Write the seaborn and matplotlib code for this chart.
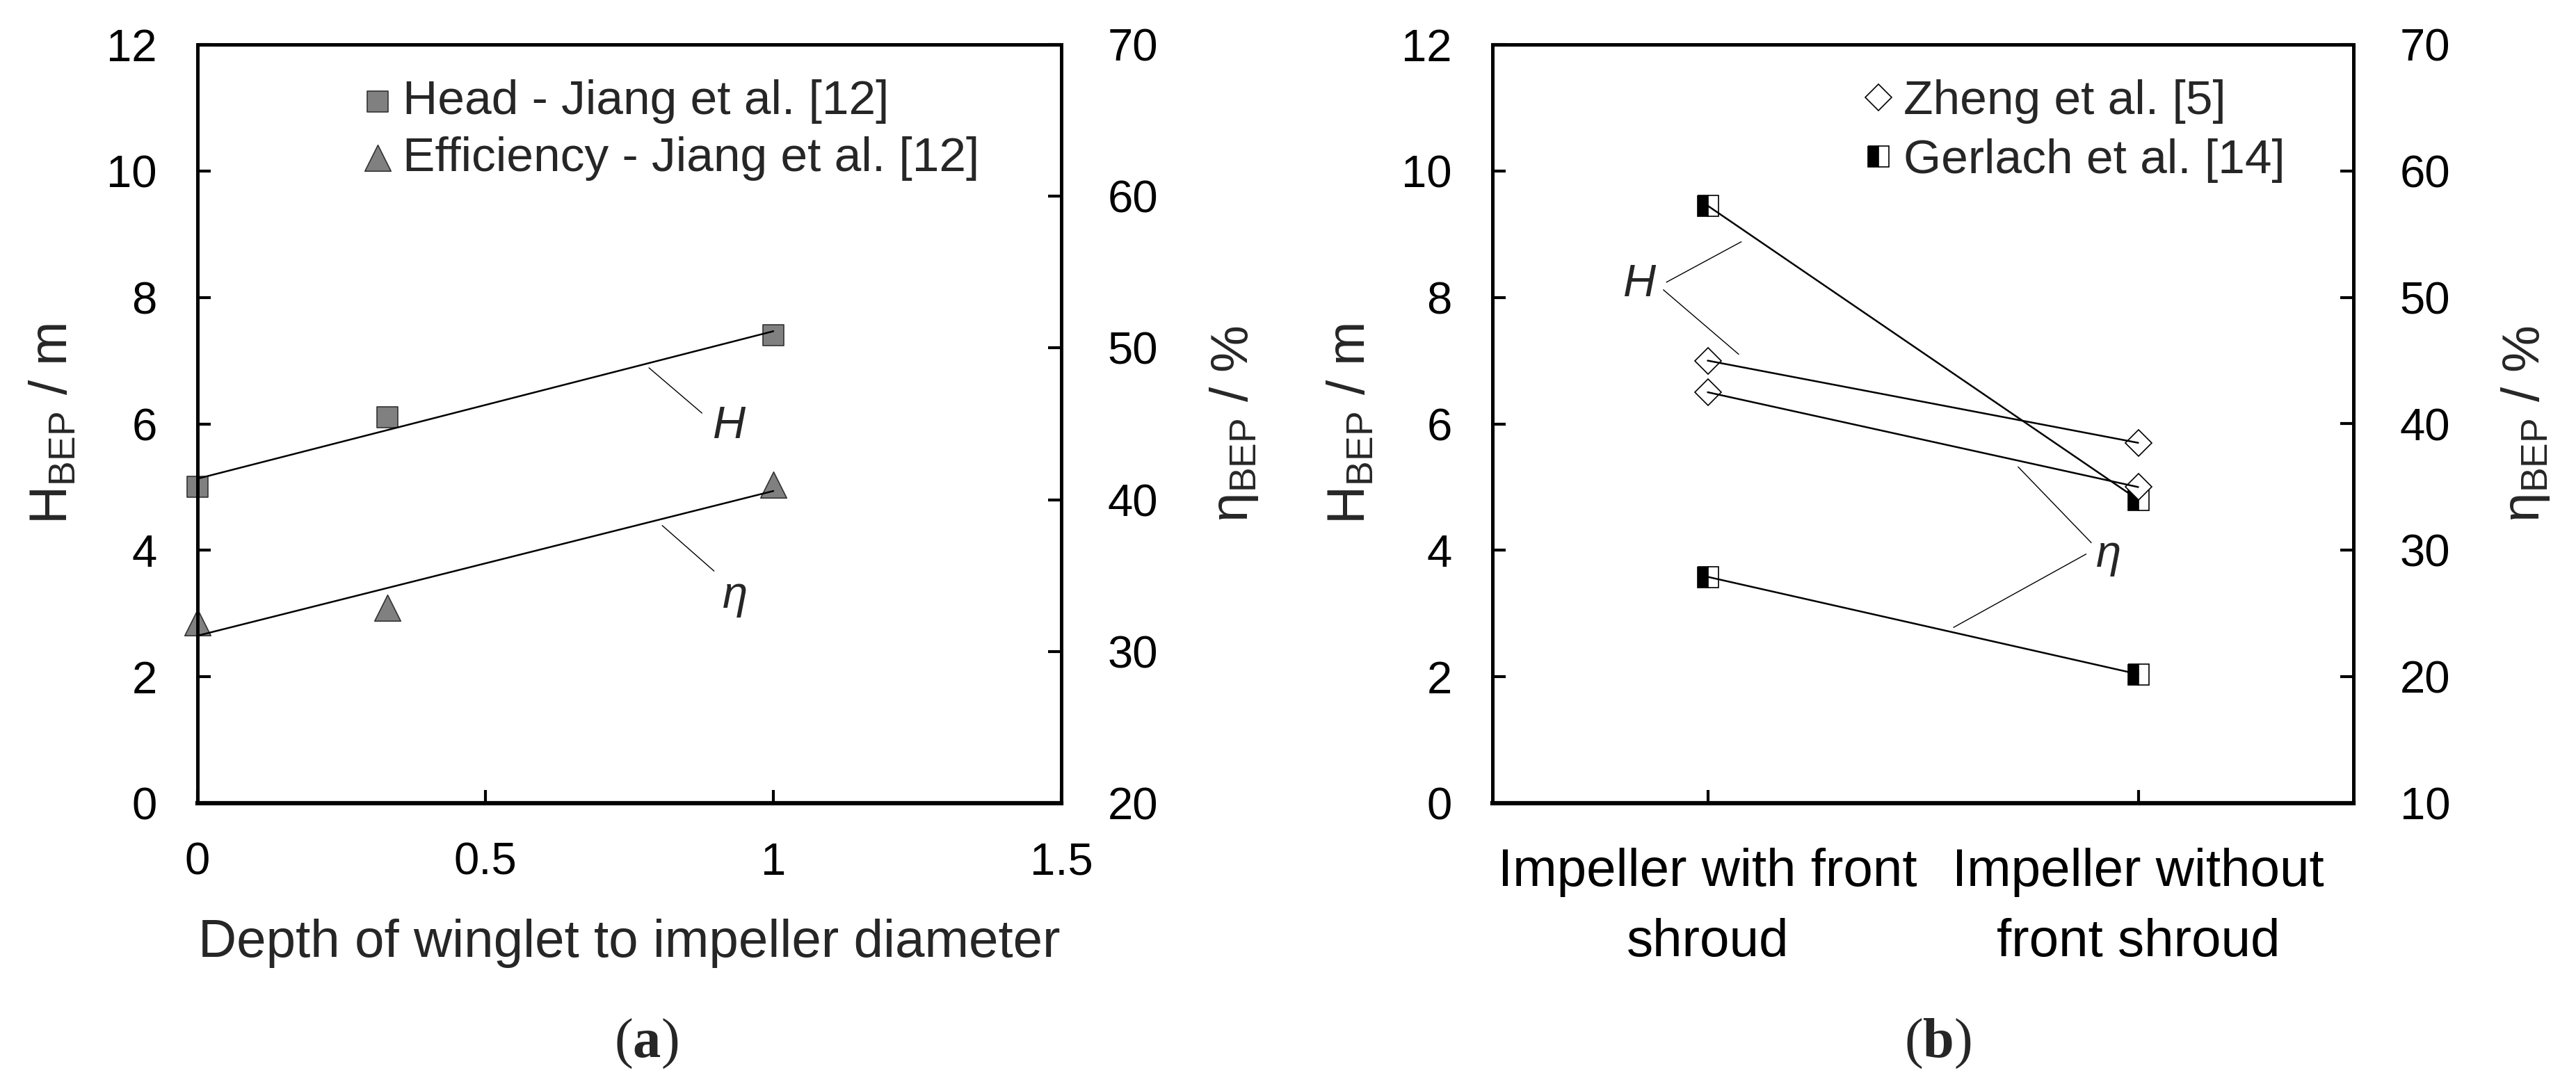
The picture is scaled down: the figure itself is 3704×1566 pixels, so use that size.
import numpy as np
import pandas as pd
import matplotlib
matplotlib.use("Agg")
import matplotlib.pyplot as plt
from matplotlib.ticker import FuncFormatter
import seaborn as sns

# --- (a) Jiang et al. [12]: winglet depth ---
depth_ratio = [0.0, 0.33, 1.0]
head_jiang = [5.0, 6.1, 7.4]          # H_BEP / m
eff_jiang = [31.9, 32.9, 41.0]        # eta_BEP / %

# --- (b) front shroud vs. no front shroud ---
impeller_types = ["Impeller with front\nshroud", "Impeller without\nfront shroud"]
head_zheng = [7.0, 5.7]
eff_zheng = [42.5, 35.0]
head_gerlach = [9.45, 4.8]
eff_gerlach = [27.9, 20.2]

# --- Style ---
sns.set_theme(style="ticks")
plt.rcParams.update({
    "font.family": ["Liberation Sans", "DejaVu Sans"],
    "mathtext.default": "regular",
    "mathtext.fontset": "custom",
    "mathtext.bf": "Liberation Serif:bold",
    "axes.edgecolor": "black",
    "axes.linewidth": 3.5,
    "xtick.direction": "in",
    "ytick.direction": "in",
    "xtick.major.size": 14,
    "ytick.major.size": 14,
    "xtick.major.width": 3,
    "ytick.major.width": 3,
    "xtick.color": "black",
    "ytick.color": "black",
})

TICK_FS = 47
LEG_FS = 50
LAB_FS = 55
YLAB_FS = 55
LINE_LW = 1.8
LEAD_LW = 1.0
GREY = "#808080"

fig = plt.figure(figsize=(37.04, 15.66), dpi=100)
W, H = 3704, 1566
ax_a = fig.add_axes([284 / W, 1 - 1155 / H, 1242 / W, 1091 / H])
ax_b = fig.add_axes([2146 / W, 1 - 1155 / H, 1238 / W, 1091 / H])

# ================= (a) =================
df_a = pd.DataFrame({"depth": depth_ratio, "head": head_jiang, "eff": eff_jiang})
ax_a2 = ax_a.twinx()

sns.scatterplot(data=df_a, x="depth", y="head", ax=ax_a, marker="s", s=22 ** 2,
                color=GREY, edgecolor="#333333", linewidth=1.2, zorder=2, clip_on=False,
                label="Head - Jiang et al. [12]", legend=False)
sns.regplot(data=df_a, x="depth", y="head", ax=ax_a, scatter=False, ci=None,
            color="black", line_kws={"lw": LINE_LW, "zorder": 3})

sns.scatterplot(data=df_a, x="depth", y="eff", ax=ax_a2, marker="^", s=27 ** 2,
                color=GREY, edgecolor="#333333", linewidth=1.2, zorder=2, clip_on=False,
                label="Efficiency - Jiang et al. [12]", legend=False)
sns.regplot(data=df_a, x="depth", y="eff", ax=ax_a2, scatter=False, ci=None,
            color="black", line_kws={"lw": LINE_LW, "zorder": 3})

ax_a.set_xlim(0, 1.5)
ax_a.set_xticks([0, 0.5, 1, 1.5])
ax_a.xaxis.set_major_formatter(FuncFormatter(lambda v, _: f"{v:g}"))
ax_a.set_ylim(0, 12)
ax_a.set_yticks(np.arange(0, 13, 2))
ax_a2.set_ylim(20, 70)
ax_a2.set_yticks(np.arange(20, 71, 10))

ax_a.set_xlabel("Depth of winglet to impeller diameter", fontsize=LAB_FS, labelpad=36)
ax_a.set_ylabel("H$_{BEP}$ / m", fontsize=YLAB_FS)
ax_a2.set_ylabel("η$_{BEP}$ / %", fontsize=YLAB_FS, rotation=90)

# annotations (a)
lead = dict(arrowstyle="-", lw=LEAD_LW, color="black", shrinkA=0, shrinkB=0)
ax_a.annotate("", xy=(0.876, 6.17), xytext=(0.784, 6.886), arrowprops=lead)
ax_a.text(0.923, 5.96, "H", style="italic", fontsize=TICK_FS, ha="center", va="center")
ax_a2.annotate("", xy=(0.897, 35.3), xytext=(0.807, 38.3), arrowprops=lead)
ax_a2.text(0.934, 33.6, "η", style="italic", fontsize=TICK_FS, ha="center", va="center")

h1, l1 = ax_a.get_legend_handles_labels()
h2, l2 = ax_a2.get_legend_handles_labels()
ax_a2.legend(h1 + h2, l1 + l2, loc="upper left", bbox_to_anchor=(0.1916, 0.954),
             frameon=False, fontsize=LEG_FS, handlelength=0.6, handletextpad=0.22,
             borderpad=0, borderaxespad=0, labelspacing=0.25, scatterpoints=1)

# ================= (b) =================
ax_b2 = ax_b.twinx()

# markers
sns.lineplot(x=impeller_types, y=head_zheng, ax=ax_b, ls="none", marker="D",
             markersize=19, markerfacecolor="white", markeredgecolor="black",
             markeredgewidth=1.2, zorder=2, label="Zheng et al. [5]", legend=False)
sns.lineplot(x=impeller_types, y=head_gerlach, ax=ax_b, ls="none", marker="s",
             markersize=21, fillstyle="left", markerfacecolor="black",
             markerfacecoloralt="white", markeredgecolor="black",
             markeredgewidth=1.2, zorder=2, label="Gerlach et al. [14]", legend=False)
sns.lineplot(x=impeller_types, y=eff_zheng, ax=ax_b2, ls="none", marker="D",
             markersize=19, markerfacecolor="white", markeredgecolor="black",
             markeredgewidth=1.2, zorder=2, legend=False)
sns.lineplot(x=impeller_types, y=eff_gerlach, ax=ax_b2, ls="none", marker="s",
             markersize=21, fillstyle="left", markerfacecolor="black",
             markerfacecoloralt="white", markeredgecolor="black",
             markeredgewidth=1.2, zorder=2, legend=False)
# connecting lines
for yy, a in [(head_zheng, ax_b), (head_gerlach, ax_b), (eff_zheng, ax_b2), (eff_gerlach, ax_b2)]:
    sns.lineplot(x=impeller_types, y=yy, ax=a, color="black", lw=LINE_LW,
                 sort=False, zorder=3, legend=False)

ax_b.set_xlim(-0.5, 1.5)
ax_b.set_ylim(0, 12)
ax_b.set_yticks(np.arange(0, 13, 2))
ax_b2.set_ylim(10, 70)
ax_b2.set_yticks(np.arange(10, 71, 10))
ax_b.set_xlabel("")
ax_b.set_ylabel("H$_{BEP}$ / m", fontsize=YLAB_FS)
ax_b2.set_ylabel("η$_{BEP}$ / %", fontsize=YLAB_FS, rotation=90)

# annotations (b)
ax_b.text(-0.158, 8.2, "H", style="italic", fontsize=TICK_FS, ha="center", va="center")
ax_b.annotate("", xy=(0.078, 8.88), xytext=(-0.096, 8.24), arrowprops=lead)
ax_b.annotate("", xy=(0.072, 7.10), xytext=(-0.103, 8.12), arrowprops=lead)
ax_b2.text(0.931, 29.6, "η", style="italic", fontsize=TICK_FS, ha="center", va="center")
ax_b2.annotate("", xy=(0.721, 36.6), xytext=(0.891, 30.6), arrowprops=lead)
ax_b2.annotate("", xy=(0.571, 23.9), xytext=(0.879, 29.7), arrowprops=lead)

h1, l1 = ax_b.get_legend_handles_labels()
ax_b2.legend(h1, l1, loc="upper left", bbox_to_anchor=(0.4313, 0.954),
             frameon=False, fontsize=LEG_FS, handlelength=0.6, handletextpad=0.22,
             borderpad=0, borderaxespad=0, labelspacing=0.3, numpoints=1)

# --- common axis cosmetics ---
for a in (ax_a, ax_b):
    a.tick_params(axis="both", labelsize=TICK_FS, right=False, top=False)
    a.tick_params(axis="y", pad=42)
    a.spines["bottom"].set_linewidth(4.5)
ax_a.tick_params(axis="x", pad=40)
ax_b.tick_params(axis="x", pad=46)
ax_b.set_xticks(range(len(impeller_types)))
ax_b.set_xticklabels(impeller_types, fontsize=LAB_FS, linespacing=1.55)

for a in (ax_a2, ax_b2):
    a.tick_params(axis="y", labelsize=TICK_FS, left=False, pad=48)
    a.tick_params(axis="x", top=False, bottom=False)
    a.yaxis.label.set_va("center")

for a, x in [(ax_a, -0.1667), (ax_b, -0.164)]:
    a.yaxis.set_label_coords(x, 0.5)
    a.yaxis.label.set_va("center")
ax_a2.yaxis.set_label_coords(1.20, 0.5)
ax_b2.yaxis.set_label_coords(1.20, 0.5)

# --- panel captions ---
fig.text(929 / W, 1 - 1501 / H, r"($\mathbf{a}$)", family="Liberation Serif",
         fontsize=58, ha="center", va="center")
fig.text(2786 / W, 1 - 1501 / H, r"($\mathbf{b}$)", family="Liberation Serif",
         fontsize=58, ha="center", va="center")

fig.savefig("out.png", dpi=100, facecolor="white")
